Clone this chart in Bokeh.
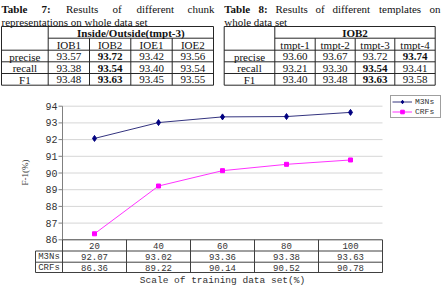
import math
from bokeh.plotting import figure
from bokeh.models import Range1d, Legend, LegendItem
from bokeh.core.properties import value
from bokeh.embed import file_html
from bokeh.resources import INLINE

# ---------------- data ----------------
t7_caption_1 = ["Table", "7:", "Results", "of", "different", "chunk"]
t7_caption_2 = "representations on whole data set"
t7_header = "Inside/Outside(tmpt-3)"
t7_cols = ["IOB1", "IOB2", "IOE1", "IOE2"]
t7_precise = [93.57, 93.72, 93.42, 93.56]
t7_recall = [93.38, 93.54, 93.40, 93.54]
t7_f1 = [93.48, 93.63, 93.45, 93.55]

t8_caption_1 = ["Table", "8:", "Results", "of", "different", "templates", "on"]
t8_caption_2 = "whole data set"
t8_header = "IOB2"
t8_cols = ["tmpt-1", "tmpt-2", "tmpt-3", "tmpt-4"]
t8_precise = [93.60, 93.67, 93.72, 93.74]
t8_recall = [93.21, 93.30, 93.54, 93.41]
t8_f1 = [93.40, 93.48, 93.63, 93.58]

row_names = ["precise", "recall", "F1"]

sizes = [20, 40, 60, 80, 100]
m3ns = [92.07, 93.02, 93.36, 93.38, 93.63]
crfs = [86.36, 89.22, 90.14, 90.52, 90.78]
series_names = ["M3Ns", "CRFs"]
y_ticks = [86, 87, 88, 89, 90, 91, 92, 93, 94]
x_title = "Scale of training data set(%)"
y_title = "F-1(%)"

# ---------------- layout constants ----------------
W, H = 442, 287
X0, XS = 94.0, 3.2      # pixel of first category, pixels per data unit
Y94, YS = 105.7, 16.7   # pixel of top tick, pixels per percent
step = sizes[1] - sizes[0]
ytop, ybot = y_ticks[-1], y_ticks[0]

x_range = Range1d(sizes[0] - X0 / XS, sizes[0] + (W - X0) / XS)
y_range = Range1d(ytop - (H - Y94) / YS, ytop + Y94 / YS)

p = figure(width=W, height=H, x_range=x_range, y_range=y_range,
           x_axis_type=None, y_axis_type=None, toolbar_location=None,
           output_backend="svg", min_border=0)
p.outline_line_color = None
p.background_fill_color = "white"
p.border_fill_color = "white"
p.extra_x_ranges = {"px": Range1d(0, W)}
p.extra_y_ranges = {"px": Range1d(H, 0)}

SERIF = value("Liberation Serif")
MONO = value("Liberation Mono")
LINE = "#262626"


def ptext(xs, ys, texts, font=SERIF, size="11px", align="center",
          baseline="middle", style="normal", color="#111111", **kw):
    p.text(x=xs, y=ys, text=texts, text_font=font, text_font_size=size,
           text_align=align, text_baseline=baseline, text_font_style=style,
           text_color=color, x_range_name=kw.pop("xr", "px"),
           y_range_name=kw.pop("yr", "px"), **kw)


def pseg(x0, y0, x1, y1, color=LINE, width=1, xr="px", yr="px"):
    p.segment(x0=x0, y0=y0, x1=x1, y1=y1, line_color=color, line_width=width,
              x_range_name=xr, y_range_name=yr)


row_edges = [26, 37.7, 49.7, 61.3, 73, 84.7]


def draw_table(col_edges, cap1, cap1_x, cap2, header, cols, rows):
    # caption
    ptext(cap1_x[:2], [8.5] * 2, cap1[:2], align="left", baseline="alphabetic",
          style="bold")
    ptext(cap1_x[2:], [8.5] * (len(cap1) - 2), cap1[2:], align="left",
          baseline="alphabetic")
    ptext([col_edges[0]], [21.5], [cap2], align="left", baseline="alphabetic")
    # borders
    left, right = col_edges[0], col_edges[-1]
    full = [row_edges[0]] + row_edges[2:]
    pseg([left] * len(full), full, [right] * len(full), full)
    pseg([col_edges[1]], [row_edges[1]], [right], [row_edges[1]])
    pseg([left, col_edges[1], right], [row_edges[0]] * 3,
         [left, col_edges[1], right], [row_edges[-1]] * 3)
    inner = col_edges[2:-1]
    pseg(inner, [row_edges[1]] * len(inner), inner, [row_edges[-1]] * len(inner))
    # texts
    centers = [(a + b) / 2 for a, b in zip(col_edges[1:-1], col_edges[2:])]
    rc = [(a + b) / 2 + 0.5 for a, b in zip(row_edges[:-1], row_edges[1:])]
    ptext([(col_edges[1] + right) / 2], [rc[0]], [header], style="bold")
    ptext(centers, [rc[1]] * len(cols), cols)
    c0 = (left + col_edges[1]) / 2
    ptext([c0] * len(row_names), rc[2:], row_names)
    for i, vals in enumerate(rows):
        best = vals.index(max(vals))
        for j, v in enumerate(vals):
            ptext([centers[j]], [rc[2 + i]], [f"{v:.2f}"],
                  style="bold" if j == best else "normal")


draw_table([1, 47.7, 89, 130.3, 171.7, 213], t7_caption_1,
           [1, 41, 65.5, 112, 136, 187], t7_caption_2, t7_header, t7_cols,
           [t7_precise, t7_recall, t7_f1])
draw_table([223.7, 274.3, 314.7, 354.7, 394.3, 434.7], t8_caption_1,
           [223.7, 258, 275, 315, 332, 378.5, 429], t8_caption_2, t8_header,
           t8_cols, [t8_precise, t8_recall, t8_f1])

# ---------------- chart ----------------
x_lo = sizes[0] - step / 2
x_hi = sizes[-1] + step / 2
grid = y_ticks[1:]
p.segment(x0=[x_lo] * len(grid), x1=[x_hi] * len(grid), y0=grid, y1=grid,
          line_color="#d6d6d6", line_width=1)
p.segment(x0=[x_lo], y0=[ybot], x1=[x_lo], y1=[ytop], line_color="#808080")
axis_px = X0 - step / 2 * XS
pseg([axis_px - 4] * len(y_ticks), y_ticks, [axis_px] * len(y_ticks), y_ticks,
     color="#808080", yr="default")
ptext([axis_px - 5] * len(y_ticks), y_ticks, [str(t) for t in y_ticks],
      font=MONO, size="10px", align="right", yr="default", color="#333333")
ptext([24], [172], [y_title], font=SERIF, size="9px", angle=math.pi / 2,
      color="#333333")

l1 = p.line(sizes, m3ns, line_color="#34347f", line_width=1)
s1 = p.scatter(sizes, m3ns, marker="diamond", size=6, fill_color="#000080",
               line_color="#000080")
l2 = p.line(sizes, crfs, line_color="#ff33ff", line_width=1)
s2 = p.scatter(sizes, crfs, marker="square", size=4, fill_color="#ff00ff",
               line_color="#ff00ff")

# data table under the axis
bottom_px = Y94 + (ytop - ybot) * YS
trow = [bottom_px, bottom_px + 11.2, bottom_px + 22.4, bottom_px + 32.7]
lbl_left = x_lo - 27 / XS
bounds = [x_lo + k * step for k in range(len(sizes) + 1)]
p.segment(x0=[x_lo] + [lbl_left] * 3, x1=[x_hi] * 4, y0=trow, y1=trow,
          line_color="#404040", y_range_name="px")
p.segment(x0=bounds, x1=bounds, y0=[trow[0]] * len(bounds),
          y1=[trow[-1]] * len(bounds), line_color="#404040", y_range_name="px")
p.segment(x0=[lbl_left], x1=[lbl_left], y0=[trow[1]], y1=[trow[-1]],
          line_color="#404040", y_range_name="px")
rmid = [(a + b) / 2 + 0.5 for a, b in zip(trow[:-1], trow[1:])]
ptext(sizes, [rmid[0]] * len(sizes), [str(s) for s in sizes], font=MONO,
      size="9px", xr="default", color="#333333")
ptext(sizes, [rmid[1]] * len(sizes), [f"{v:.2f}" for v in m3ns], font=MONO,
      size="9px", xr="default", color="#333333")
ptext(sizes, [rmid[2]] * len(sizes), [f"{v:.2f}" for v in crfs], font=MONO,
      size="9px", xr="default", color="#333333")
ptext([(lbl_left + x_lo) / 2] * 2, rmid[1:], series_names, font=MONO,
      size="9px", xr="default", color="#333333")
ptext([(x_lo + x_hi) / 2], [trow[-1] + 7.5], [x_title], font=MONO,
      size="9.5px", xr="default", color="#333333")

legend = Legend(items=[LegendItem(label=series_names[0], renderers=[l1, s1]),
                       LegendItem(label=series_names[1], renderers=[l2, s2])],
                location=(390, 169), orientation="vertical",
                label_text_font="Liberation Mono", label_text_font_size="8px",
                label_text_color="#333333", glyph_width=20, glyph_height=9,
                label_height=9, label_width=24, label_standoff=3, spacing=1,
                padding=1, margin=0, border_line_color="#404040",
                border_line_width=1, background_fill_alpha=1)
p.add_layout(legend)

open("out.html", "w").write(file_html(p, INLINE))
